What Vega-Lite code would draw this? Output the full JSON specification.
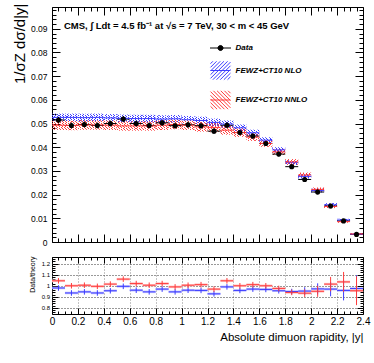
{
"$schema": "https://vega.github.io/schema/vega-lite/v6.json",
"background": "white",
"padding": {"left": 11, "top": 2, "right": 4, "bottom": 4},
"autosize": {"type": "pad"},
"config": {
  "font": "Liberation Sans",
  "view": {"stroke": "black", "strokeWidth": 1},
  "axis": {"domain": false, "grid": false, "ticks": true, "tickColor": "black", "tickWidth": 1, "labelColor": "black", "titleColor": "black", "labelFont": "Liberation Sans", "titleFont": "Liberation Sans", "titleFontWeight": "normal", "labelFlush": false, "labelOverlap": false, "labelBound": false}
},
"datasets": {"bins": [
{"lo":0.0,"hi":0.1,"mid":0.05,"d":0.0515,"derr":0.00129,"nlo":0.0526,"nlo_lo":0.0510,"nlo_hi":0.0542,"nnlo":0.0493,"nnlo_lo":0.0473,"nnlo_hi":0.0513,"rn":0.98,"rr":1.045,"rne":0.025,"rre":0.025},
{"lo":0.1,"hi":0.2,"mid":0.15,"d":0.0492,"derr":0.00123,"nlo":0.0526,"nlo_lo":0.0510,"nlo_hi":0.0542,"nnlo":0.0492,"nnlo_lo":0.0472,"nnlo_hi":0.0512,"rn":0.935,"rr":1.0,"rne":0.025,"rre":0.025},
{"lo":0.2,"hi":0.3,"mid":0.25,"d":0.0496,"derr":0.00124,"nlo":0.0525,"nlo_lo":0.0509,"nlo_hi":0.0541,"nnlo":0.0494,"nnlo_lo":0.0474,"nnlo_hi":0.0514,"rn":0.945,"rr":1.005,"rne":0.025,"rre":0.025},
{"lo":0.3,"hi":0.4,"mid":0.35,"d":0.0492,"derr":0.00123,"nlo":0.0526,"nlo_lo":0.0510,"nlo_hi":0.0542,"nnlo":0.0494,"nnlo_lo":0.0474,"nnlo_hi":0.0514,"rn":0.935,"rr":0.995,"rne":0.025,"rre":0.025},
{"lo":0.4,"hi":0.5,"mid":0.45,"d":0.0500,"derr":0.00125,"nlo":0.0524,"nlo_lo":0.0508,"nlo_hi":0.0540,"nnlo":0.0493,"nnlo_lo":0.0473,"nnlo_hi":0.0513,"rn":0.955,"rr":1.015,"rne":0.025,"rre":0.025},
{"lo":0.5,"hi":0.6,"mid":0.55,"d":0.0519,"derr":0.0013,"nlo":0.0522,"nlo_lo":0.0506,"nlo_hi":0.0538,"nnlo":0.0490,"nnlo_lo":0.0470,"nnlo_hi":0.0510,"rn":0.995,"rr":1.06,"rne":0.025,"rre":0.025},
{"lo":0.6,"hi":0.7,"mid":0.65,"d":0.0500,"derr":0.00125,"nlo":0.0521,"nlo_lo":0.0505,"nlo_hi":0.0537,"nnlo":0.0490,"nnlo_lo":0.0470,"nnlo_hi":0.0510,"rn":0.96,"rr":1.02,"rne":0.025,"rre":0.025},
{"lo":0.7,"hi":0.8,"mid":0.75,"d":0.0492,"derr":0.00123,"nlo":0.0521,"nlo_lo":0.0505,"nlo_hi":0.0537,"nnlo":0.0490,"nnlo_lo":0.0470,"nnlo_hi":0.0510,"rn":0.945,"rr":1.005,"rne":0.025,"rre":0.025},
{"lo":0.8,"hi":0.9,"mid":0.85,"d":0.0503,"derr":0.00126,"nlo":0.0519,"nlo_lo":0.0503,"nlo_hi":0.0535,"nnlo":0.0493,"nnlo_lo":0.0473,"nnlo_hi":0.0513,"rn":0.97,"rr":1.02,"rne":0.025,"rre":0.025},
{"lo":0.9,"hi":1.0,"mid":0.95,"d":0.0491,"derr":0.00123,"nlo":0.0520,"nlo_lo":0.0504,"nlo_hi":0.0536,"nnlo":0.0496,"nnlo_lo":0.0476,"nnlo_hi":0.0516,"rn":0.945,"rr":0.99,"rne":0.025,"rre":0.025},
{"lo":1.0,"hi":1.1,"mid":1.05,"d":0.0495,"derr":0.00124,"nlo":0.0516,"nlo_lo":0.0500,"nlo_hi":0.0532,"nnlo":0.0493,"nnlo_lo":0.0473,"nnlo_hi":0.0513,"rn":0.96,"rr":1.005,"rne":0.025,"rre":0.025},
{"lo":1.1,"hi":1.2,"mid":1.15,"d":0.0491,"derr":0.00123,"nlo":0.0513,"nlo_lo":0.0497,"nlo_hi":0.0529,"nnlo":0.0486,"nnlo_lo":0.0466,"nnlo_hi":0.0506,"rn":0.958,"rr":1.01,"rne":0.025,"rre":0.025},
{"lo":1.2,"hi":1.3,"mid":1.25,"d":0.0468,"derr":0.00117,"nlo":0.0505,"nlo_lo":0.0489,"nlo_hi":0.0521,"nnlo":0.0483,"nnlo_lo":0.0463,"nnlo_hi":0.0503,"rn":0.927,"rr":0.97,"rne":0.025,"rre":0.025},
{"lo":1.3,"hi":1.4,"mid":1.35,"d":0.0493,"derr":0.00123,"nlo":0.0498,"nlo_lo":0.0483,"nlo_hi":0.0513,"nnlo":0.0472,"nnlo_lo":0.0453,"nnlo_hi":0.0491,"rn":0.99,"rr":1.045,"rne":0.025,"rre":0.025},
{"lo":1.4,"hi":1.5,"mid":1.45,"d":0.0462,"derr":0.00116,"nlo":0.0482,"nlo_lo":0.0468,"nlo_hi":0.0496,"nnlo":0.0462,"nnlo_lo":0.0444,"nnlo_hi":0.0480,"rn":0.958,"rr":1.0,"rne":0.025,"rre":0.025},
{"lo":1.5,"hi":1.6,"mid":1.55,"d":0.0447,"derr":0.00112,"nlo":0.0461,"nlo_lo":0.0448,"nlo_hi":0.0474,"nnlo":0.0443,"nnlo_lo":0.0427,"nnlo_hi":0.0459,"rn":0.97,"rr":1.01,"rne":0.025,"rre":0.025},
{"lo":1.6,"hi":1.7,"mid":1.65,"d":0.0416,"derr":0.00104,"nlo":0.0430,"nlo_lo":0.0418,"nlo_hi":0.0442,"nnlo":0.0416,"nnlo_lo":0.0402,"nnlo_hi":0.0430,"rn":0.967,"rr":1.0,"rne":0.025,"rre":0.025},
{"lo":1.7,"hi":1.8,"mid":1.75,"d":0.0371,"derr":0.00093,"nlo":0.0389,"nlo_lo":0.0378,"nlo_hi":0.0400,"nnlo":0.0380,"nnlo_lo":0.0367,"nnlo_hi":0.0393,"rn":0.955,"rr":0.976,"rne":0.025,"rre":0.025},
{"lo":1.8,"hi":1.9,"mid":1.85,"d":0.0318,"derr":0.0008,"nlo":0.0335,"nlo_lo":0.0325,"nlo_hi":0.0345,"nnlo":0.0338,"nnlo_lo":0.0326,"nnlo_hi":0.0350,"rn":0.948,"rr":0.94,"rne":0.025,"rre":0.025},
{"lo":1.9,"hi":2.0,"mid":1.95,"d":0.0264,"derr":0.00092,"nlo":0.0277,"nlo_lo":0.0268,"nlo_hi":0.0286,"nnlo":0.0283,"nnlo_lo":0.0273,"nnlo_hi":0.0293,"rn":0.952,"rr":0.933,"rne":0.035,"rre":0.035},
{"lo":2.0,"hi":2.1,"mid":2.05,"d":0.0211,"derr":0.00106,"nlo":0.0217,"nlo_lo":0.0209,"nlo_hi":0.0225,"nnlo":0.0222,"nnlo_lo":0.0214,"nnlo_hi":0.0230,"rn":0.972,"rr":0.95,"rne":0.05,"rre":0.05},
{"lo":2.1,"hi":2.2,"mid":2.15,"d":0.0152,"derr":0.00099,"nlo":0.0157,"nlo_lo":0.0150,"nlo_hi":0.0164,"nnlo":0.0150,"nnlo_lo":0.0143,"nnlo_hi":0.0157,"rn":0.97,"rr":1.015,"rne":0.065,"rre":0.065},
{"lo":2.2,"hi":2.3,"mid":2.25,"d":0.0089,"derr":0.0008,"nlo":0.0093,"nlo_lo":0.0088,"nlo_hi":0.0098,"nnlo":0.0086,"nnlo_lo":0.0081,"nnlo_hi":0.0091,"rn":0.958,"rr":1.035,"rne":0.09,"rre":0.09},
{"lo":2.3,"hi":2.4,"mid":2.35,"d":0.0032,"derr":0.00038,"nlo":0.0033,"nlo_lo":0.0030,"nlo_hi":0.0036,"nnlo":0.0034,"nnlo_lo":0.0031,"nnlo_hi":0.0037,"rn":0.975,"rr":0.955,"rne":0.12,"rre":0.13}
]},
"data": {"name": "bins"},
"vconcat": [
{
  "width": 311, "height": 235,
  "title": {"text": "CMS, ∫ Ldt = 4.5 fb⁻¹ at √s = 7 TeV, 30 < m < 45 GeV", "anchor": "start", "frame": "group", "orient": "top", "offset": -35, "dx": 12, "fontSize": 9.5, "fontWeight": "bold", "color": "black", "baseline": "alphabetic"},
  "layer": [
    {"mark": {"type": "rect", "fill": {"gradient": "linear", "x1": 0, "y1": 0, "x2": 1, "y2": 1, "stops": [
      {"offset": 0, "color": "#3c3cff"}, {"offset": 0.04, "color": "#3c3cff"}, {"offset": 0.04, "color": "rgba(60,60,255,0)"}, {"offset": 0.125, "color": "rgba(60,60,255,0)"},
      {"offset": 0.125, "color": "#3c3cff"}, {"offset": 0.165, "color": "#3c3cff"}, {"offset": 0.165, "color": "rgba(60,60,255,0)"}, {"offset": 0.25, "color": "rgba(60,60,255,0)"},
      {"offset": 0.25, "color": "#3c3cff"}, {"offset": 0.29, "color": "#3c3cff"}, {"offset": 0.29, "color": "rgba(60,60,255,0)"}, {"offset": 0.375, "color": "rgba(60,60,255,0)"},
      {"offset": 0.375, "color": "#3c3cff"}, {"offset": 0.415, "color": "#3c3cff"}, {"offset": 0.415, "color": "rgba(60,60,255,0)"}, {"offset": 0.5, "color": "rgba(60,60,255,0)"},
      {"offset": 0.5, "color": "#3c3cff"}, {"offset": 0.54, "color": "#3c3cff"}, {"offset": 0.54, "color": "rgba(60,60,255,0)"}, {"offset": 0.625, "color": "rgba(60,60,255,0)"},
      {"offset": 0.625, "color": "#3c3cff"}, {"offset": 0.665, "color": "#3c3cff"}, {"offset": 0.665, "color": "rgba(60,60,255,0)"}, {"offset": 0.75, "color": "rgba(60,60,255,0)"},
      {"offset": 0.75, "color": "#3c3cff"}, {"offset": 0.79, "color": "#3c3cff"}, {"offset": 0.79, "color": "rgba(60,60,255,0)"}, {"offset": 0.875, "color": "rgba(60,60,255,0)"},
      {"offset": 0.875, "color": "#3c3cff"}, {"offset": 0.915, "color": "#3c3cff"}, {"offset": 0.915, "color": "rgba(60,60,255,0)"}, {"offset": 1, "color": "rgba(60,60,255,0)"}
    ]}},
     "encoding": {
       "x": {"field": "lo", "type": "quantitative", "scale": {"domain": [0, 2.4], "nice": false, "zero": false},
             "axis": {"orient": "bottom", "tickCount": 48, "labels": false, "title": null,
                      "tickSize": {"condition": {"test": "abs(datum.value/0.2-round(datum.value/0.2))<0.001", "value": -8}, "value": -4}}},
       "x2": {"field": "hi"},
       "y": {"field": "nlo_lo", "type": "quantitative", "scale": {"domain": [0, 0.0992], "nice": false, "zero": false},
             "axis": {"orient": "left", "tickCount": 50, "labelExpr": "abs(datum.value*100-round(datum.value*100))<0.001 ? format(datum.value,'.2~f') : ''",
                      "tickSize": {"condition": {"test": "abs(datum.value*100-round(datum.value*100))<0.001", "value": -8}, "value": -4},
                      "labelFontSize": 8.5, "labelPadding": 13, "title": "1/σZ dσ/d|y|", "titleFontSize": 15, "titleX": -40, "titleY": -4, "titleAlign": "right", "titleBaseline": "top", "titleAngle": -90}},
       "y2": {"field": "nlo_hi"}
     }},
    {"mark": {"type": "rect", "fill": {"gradient": "linear", "x1": 1, "y1": 0, "x2": 0, "y2": 1, "stops": [
      {"offset": 0, "color": "#ff3c3c"}, {"offset": 0.04, "color": "#ff3c3c"}, {"offset": 0.04, "color": "rgba(255,60,60,0)"}, {"offset": 0.125, "color": "rgba(255,60,60,0)"},
      {"offset": 0.125, "color": "#ff3c3c"}, {"offset": 0.165, "color": "#ff3c3c"}, {"offset": 0.165, "color": "rgba(255,60,60,0)"}, {"offset": 0.25, "color": "rgba(255,60,60,0)"},
      {"offset": 0.25, "color": "#ff3c3c"}, {"offset": 0.29, "color": "#ff3c3c"}, {"offset": 0.29, "color": "rgba(255,60,60,0)"}, {"offset": 0.375, "color": "rgba(255,60,60,0)"},
      {"offset": 0.375, "color": "#ff3c3c"}, {"offset": 0.415, "color": "#ff3c3c"}, {"offset": 0.415, "color": "rgba(255,60,60,0)"}, {"offset": 0.5, "color": "rgba(255,60,60,0)"},
      {"offset": 0.5, "color": "#ff3c3c"}, {"offset": 0.54, "color": "#ff3c3c"}, {"offset": 0.54, "color": "rgba(255,60,60,0)"}, {"offset": 0.625, "color": "rgba(255,60,60,0)"},
      {"offset": 0.625, "color": "#ff3c3c"}, {"offset": 0.665, "color": "#ff3c3c"}, {"offset": 0.665, "color": "rgba(255,60,60,0)"}, {"offset": 0.75, "color": "rgba(255,60,60,0)"},
      {"offset": 0.75, "color": "#ff3c3c"}, {"offset": 0.79, "color": "#ff3c3c"}, {"offset": 0.79, "color": "rgba(255,60,60,0)"}, {"offset": 0.875, "color": "rgba(255,60,60,0)"},
      {"offset": 0.875, "color": "#ff3c3c"}, {"offset": 0.915, "color": "#ff3c3c"}, {"offset": 0.915, "color": "rgba(255,60,60,0)"}, {"offset": 1, "color": "rgba(255,60,60,0)"}
    ]}},
     "encoding": {
       "x": {"field": "lo", "type": "quantitative",
             "axis": {"orient": "top", "tickCount": 48, "labels": false, "title": null,
                      "tickSize": {"condition": {"test": "abs(datum.value/0.2-round(datum.value/0.2))<0.001", "value": -8}, "value": -4}}},
       "x2": {"field": "hi"},
       "y": {"field": "nnlo_lo", "type": "quantitative",
             "axis": {"orient": "right", "tickCount": 50, "labels": false, "title": null,
                      "tickSize": {"condition": {"test": "abs(datum.value*100-round(datum.value*100))<0.001", "value": -8}, "value": -4}}},
       "y2": {"field": "nnlo_hi"}
     }},
    {"mark": {"type": "rule", "strokeWidth": 1},
     "encoding": {
       "x": {"field": "lo", "type": "quantitative", "axis": null}, "x2": {"field": "hi"},
       "y": {"field": "d", "type": "quantitative", "axis": null},
       "stroke": {"datum": "Data", "type": "nominal",
         "scale": {"domain": ["Data", "FEWZ+CT10 NLO", "FEWZ+CT10 NNLO"], "range": ["black", "#3c3cff", "#ff3c3c"]},
         "legend": {"orient": "none", "legendX": 157.5, "legendY": 30, "title": null, "padding": 0, "rowPadding": 5.5, "symbolSize": 441,
                    "labelFontSize": 8, "labelFontStyle": "italic", "labelFontWeight": "bold", "labelOffset": 4, "labelColor": "black", "symbolStrokeWidth": 1,
                    "encode": {"symbols": {"update": {
                      "shape": {"signal": "datum.value === 'Data' ? 'M-1,0H1M0.24,0A0.24,0.24 0 1,1 -0.24,0A0.24,0.24 0 1,1 0.24,0Z' : datum.value === 'FEWZ+CT10 NLO' ? 'M-0.95,0H0.95M-0.95,-0.65L-0.724,-0.876M-0.95,-0.3L-0.374,-0.876M-0.95,0.05L-0.024,-0.876M-0.95,0.4L0.326,-0.876M-0.95,0.75L0.676,-0.876M-0.726,0.876L0.95,-0.8M-0.376,0.876L0.95,-0.45M-0.026,0.876L0.95,-0.1M0.324,0.876L0.95,0.25M0.674,0.876L0.95,0.6' : 'M-0.95,0H0.95M0.95,-0.65L0.724,-0.876M0.95,-0.3L0.374,-0.876M0.95,0.05L0.024,-0.876M0.95,0.4L-0.326,-0.876M0.95,0.75L-0.676,-0.876M0.726,0.876L-0.95,-0.8M0.376,0.876L-0.95,-0.45M0.026,0.876L-0.95,-0.1M-0.324,0.876L-0.95,0.25M-0.674,0.876L-0.95,0.6'"},
                      "fill": {"signal": "datum.value === 'Data' ? 'black' : 'transparent'"},
                      "stroke": {"signal": "datum.value === 'Data' ? 'black' : datum.value === 'FEWZ+CT10 NLO' ? '#3c3cff' : '#ff3c3c'"},
                      "strokeWidth": {"value": 1},
                      "opacity": {"value": 1},
                      "size": {"value": 441}
                    }}}}}
     }},
    {"mark": {"type": "rule", "strokeWidth": 1},
     "encoding": {
       "x": {"field": "lo", "type": "quantitative", "axis": null}, "x2": {"field": "hi"},
       "y": {"field": "nlo", "type": "quantitative", "axis": null},
       "stroke": {"datum": "FEWZ+CT10 NLO", "type": "nominal"}
     }},
    {"mark": {"type": "rule", "strokeWidth": 1},
     "encoding": {
       "x": {"field": "lo", "type": "quantitative", "axis": null}, "x2": {"field": "hi"},
       "y": {"field": "nnlo", "type": "quantitative", "axis": null},
       "stroke": {"datum": "FEWZ+CT10 NNLO", "type": "nominal"}
     }},
    {"mark": {"type": "errorbar", "color": "black", "thickness": 1},
     "encoding": {
       "x": {"field": "mid", "type": "quantitative", "axis": null},
       "y": {"field": "d", "type": "quantitative", "axis": null},
       "yError": {"field": "derr"}
     }},
    {"mark": {"type": "point", "filled": true, "color": "black", "size": 26, "opacity": 1},
     "encoding": {
       "x": {"field": "mid", "type": "quantitative", "axis": null},
       "y": {"field": "d", "type": "quantitative", "axis": null}
     }}
  ],
  "resolve": {"axis": {"x": "independent", "y": "independent"}}
},
{
  "width": 311, "height": 57,
  "layer": [
    {"mark": {"type": "rule", "color": "#c0c0ff", "strokeWidth": 2.5},
     "encoding": {
       "x": {"field": "lo", "type": "quantitative", "scale": {"domain": [0, 2.4], "nice": false, "zero": false},
             "axis": {"orient": "bottom", "tickCount": 48, "labelExpr": "abs(datum.value/0.2-round(datum.value/0.2))<0.001 ? format(datum.value,'.1~f') : ''",
                      "tickSize": {"condition": {"test": "abs(datum.value/0.2-round(datum.value/0.2))<0.001", "value": -6}, "value": -3},
                      "labelFontSize": 10, "labelPadding": 8.5, "grid": true, "gridDash": [1, 2], "gridColor": "#888888",
                      "gridOpacity": {"condition": {"test": "abs(datum.value/0.2-round(datum.value/0.2))<0.001", "value": 1}, "value": 0},
                      "title": "Absolute dimuon rapidity, |y|", "titleFontSize": 11.5, "titleAnchor": "end", "titlePadding": 2}},
       "x2": {"field": "hi"},
       "y": {"field": "rn", "type": "quantitative", "scale": {"domain": [0.745, 1.26], "nice": false, "zero": false},
             "axis": {"orient": "left", "tickCount": 26, "labelExpr": "abs(datum.value*10-round(datum.value*10))<0.001 ? format(datum.value,'.1~f') : ''",
                      "tickSize": {"condition": {"test": "abs(datum.value*10-round(datum.value*10))<0.001", "value": -6}, "value": -3},
                      "labelFontSize": 6, "labelPadding": 8.5, "grid": true, "gridDash": [1, 2], "gridColor": "#333333",
                      "gridOpacity": {"condition": {"test": "abs(datum.value*10-round(datum.value*10))<0.001", "value": 1}, "value": 0},
                      "title": "Data/theory", "titleFontSize": 7, "titleX": -24, "titleY": -1, "titleAlign": "right", "titleBaseline": "top", "titleAngle": -90}}
     }},
    {"mark": {"type": "rule", "color": "#ffc0c0", "strokeWidth": 2.5},
     "encoding": {
       "x": {"field": "lo", "type": "quantitative",
             "axis": {"orient": "top", "tickCount": 48, "labels": false, "title": null,
                      "tickSize": {"condition": {"test": "abs(datum.value/0.2-round(datum.value/0.2))<0.001", "value": -6}, "value": -3}}},
       "x2": {"field": "hi"},
       "y": {"field": "rr", "type": "quantitative",
             "axis": {"orient": "right", "tickCount": 26, "labels": false, "title": null,
                      "tickSize": {"condition": {"test": "abs(datum.value*10-round(datum.value*10))<0.001", "value": -6}, "value": -3}}}
     }},
    {"mark": {"type": "rule", "color": "#3c3cff", "strokeWidth": 1},
     "encoding": {
       "x": {"field": "lo", "type": "quantitative", "axis": null}, "x2": {"field": "hi"},
       "y": {"field": "rn", "type": "quantitative", "axis": null}
     }},
    {"mark": {"type": "rule", "color": "#ff3c3c", "strokeWidth": 1},
     "encoding": {
       "x": {"field": "lo", "type": "quantitative", "axis": null}, "x2": {"field": "hi"},
       "y": {"field": "rr", "type": "quantitative", "axis": null}
     }},
    {"mark": {"type": "errorbar", "color": "#3c3cff", "thickness": 1},
     "encoding": {
       "x": {"field": "mid", "type": "quantitative", "axis": null},
       "y": {"field": "rn", "type": "quantitative", "axis": null},
       "yError": {"field": "rne"}
     }},
    {"mark": {"type": "errorbar", "color": "#ff3c3c", "thickness": 1},
     "encoding": {
       "x": {"field": "mid", "type": "quantitative", "axis": null},
       "y": {"field": "rr", "type": "quantitative", "axis": null},
       "yError": {"field": "rre"}
     }}
  ],
  "resolve": {"axis": {"x": "independent", "y": "independent"}}
}
],
"spacing": 15,
"bounds": "flush"
}
